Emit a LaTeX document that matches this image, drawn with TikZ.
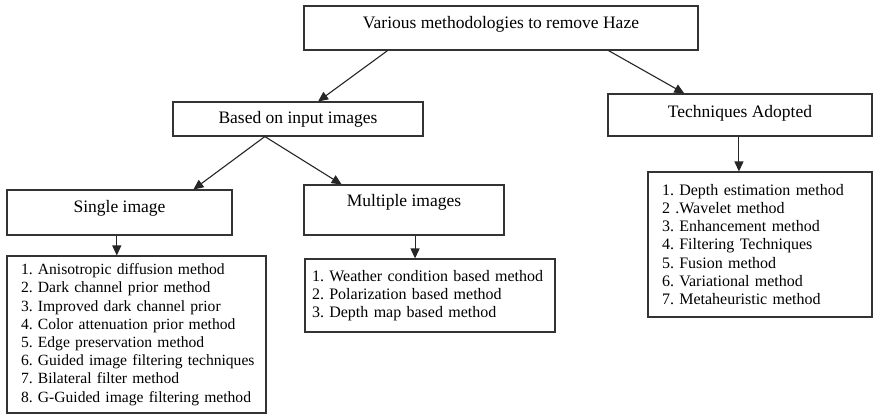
\documentclass[tikz,border=0pt]{standalone}
\usepackage{fontspec}
\setmainfont{Liberation Serif}
\usetikzlibrary{arrows.meta,calc}
\frenchspacing
\begin{document}
\frenchspacing
\begin{tikzpicture}[x=1pt,y=-1pt,
  box/.style={draw=black!80, line width=1.1pt, rectangle, inner sep=0pt, text=black},
  head/.style={box, font=\fontsize{17.5}{21}\selectfont},
  lst/.style={box, align=left, inner ysep=0pt},
  arr/.style={draw=black!85, line width=1.1pt, -{Triangle[length=10pt,width=9pt]}}]
\useasboundingbox[fill=white] (0,0) rectangle (873,416);

\node[head, minimum width=394pt, minimum height=44pt, text depth=12pt] (top) at (501,28) {Various methodologies to remove Haze};
\node[head, minimum width=250pt, minimum height=34pt] (based) at (298,119) {Based on input images};
\node[head, minimum width=264pt, minimum height=42pt, text depth=8pt] (tech) at (740,115) {Techniques Adopted};
\node[head, minimum width=225pt, minimum height=45pt, text depth=12.5pt] (single) at (119.5,212.5) {Single image};
\node[head, minimum width=200pt, minimum height=50pt, text depth=19pt] (multi) at (404,210) {Multiple images};

\node[lst, font=\fontsize{15.6}{18.2}\selectfont, inner xsep=14pt, text width=231pt, minimum height=157pt] (slist) at (136.5,334.5) {%
\mbox{1. Anisotropic diffusion method}\\
\mbox{2. Dark channel prior method}\\
\mbox{3. Improved dark channel prior}\\
\mbox{4. Color attenuation prior method}\\
\mbox{5. Edge preservation method}\\
\mbox{6. Guided image filtering techniques}\\
\mbox{7. Bilateral filter method}\\
\mbox{8. G-Guided image filtering method}};

\node[lst, font=\fontsize{16}{18.2}\selectfont, inner xsep=7pt, text width=236pt, minimum height=73pt] (mlist) at (430,295.5) {%
\mbox{1. Weather condition based method}\\
\mbox{2. Polarization based method}\\
\mbox{3. Depth map based method}};

\node[lst, font=\fontsize{16}{18.2}\selectfont, inner xsep=14pt, text width=196pt, minimum height=145pt] (tlist) at (760,244.5) {%
\mbox{1. Depth estimation method}\\
\mbox{2 .Wavelet method}\\
\mbox{3. Enhancement method}\\
\mbox{4. Filtering Techniques}\\
\mbox{5. Fusion method}\\
\mbox{6. Variational method}\\
\mbox{7. Metaheuristic method}};

\coordinate (a1) at ($(top.south west)!0.213!(top.south east)$);
\coordinate (b1) at ($(based.north west)!0.58!(based.north east)$);
\coordinate (a2) at ($(top.south west)!0.772!(top.south east)$);
\coordinate (b2) at ($(tech.north west)!0.29!(tech.north east)$);
\coordinate (a3) at ($(based.south west)!0.368!(based.south east)$);
\coordinate (b3) at ($(single.north west)!0.827!(single.north east)$);
\coordinate (b4) at ($(multi.north west)!0.19!(multi.north east)$);
\coordinate (a5) at ($(tech.south west)!0.496!(tech.south east)$);
\coordinate (a6) at ($(single.south west)!0.488!(single.south east)$);
\coordinate (a7) at ($(multi.south west)!0.555!(multi.south east)$);

\draw[arr] (a1) -- (b1);
\draw[arr] (a2) -- (b2);
\draw[arr] (a3) -- (b3);
\draw[arr] (a3) -- (b4);
\draw[arr] (a5) -- (a5 |- tlist.north);
\draw[arr] (a6) -- (a6 |- slist.north);
\draw[arr] (a7) -- (a7 |- mlist.north);
\end{tikzpicture}
\end{document}
